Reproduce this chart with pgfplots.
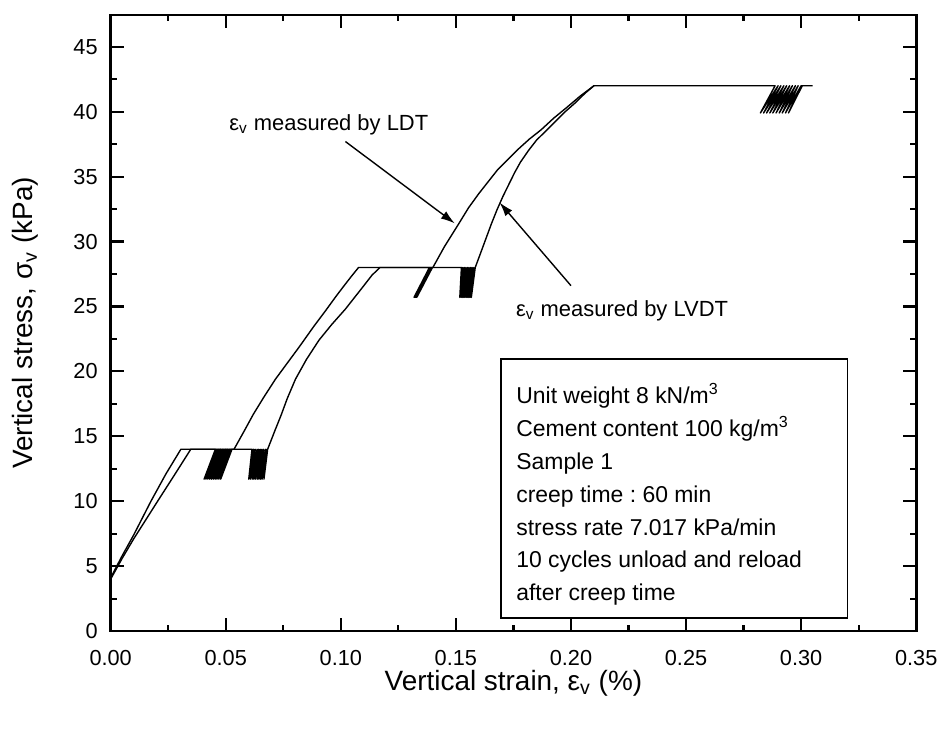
\documentclass[border=0pt]{standalone}
\usepackage{fontspec}
\setmainfont{Liberation Sans}
\usepackage{pgfplots}
\pgfplotsset{compat=1.18}
\usetikzlibrary{arrows.meta}
\frenchspacing
\begin{document}
\begin{tikzpicture}
\begin{axis}[
  scale only axis, width=404pt, height=309pt,
  xmin=0, xmax=0.35, ymin=0, ymax=47.45,
  xtick={0,0.05,0.1,0.15,0.2,0.25,0.3,0.35},
  ytick={0,5,10,15,20,25,30,35,40,45},
  minor x tick num=1, minor y tick num=1,
  tick align=inside, major tick length=6.5pt, minor tick length=3.25pt,
  major tick style={black, line width=1.1pt},
  minor tick style={black, line width=1.1pt},
  axis line style={line width=1.3pt},
  /pgf/number format/assume math mode=true,
  xticklabel style={/pgf/number format/fixed, /pgf/number format/fixed zerofill, /pgf/number format/precision=2, yshift=-6pt},
  yticklabel style={xshift=-3pt},
  tick label style={font=\fontsize{10.9}{12}\selectfont},
  xlabel={Vertical strain, ε\textsubscript{v} (\%)},
  ylabel={Vertical stress, σ\textsubscript{v} (kPa)},
  label style={font=\fontsize{14}{16}\selectfont},
  xlabel style={at={(axis description cs:0.5,-0.084)}, anchor=center},
  ylabel style={at={(axis description cs:-0.106,0.5)}, anchor=center},
]
% LDT
\addplot[black, line width=0.7pt, line join=round] coordinates {
(0,4.1) (0.005,5.8) (0.010,7.4) (0.0175,10.0) (0.024,12.1) (0.0305,14.0)
(0.0455,14.0)
(0.0406,11.7) (0.0462,14) (0.0414,11.7) (0.0470,14) (0.0422,11.7) (0.0477,14) (0.0430,11.7) (0.0485,14) (0.0438,11.7) (0.0492,14) (0.0446,11.7) (0.0500,14) (0.0454,11.7) (0.0507,14) (0.0462,11.7) (0.0515,14) (0.0470,11.7) (0.0522,14) (0.0478,11.7) (0.0527,14)
(0.0536,14.0) (0.058,15.4) (0.062,16.7) (0.0665,18.0) (0.0716,19.4) (0.077,20.7) (0.082,21.9) (0.088,23.4) (0.0939,24.8) (0.098,25.8) (0.101,26.5) (0.1045,27.3) (0.1077,28.0)
(0.1385,28.0)
(0.1318,25.7) (0.1386,28) (0.1320,25.7) (0.1388,28) (0.1321,25.7) (0.1389,28) (0.1322,25.7) (0.1390,28) (0.1324,25.7) (0.1392,28) (0.1325,25.7) (0.1393,28) (0.1326,25.7) (0.1394,28) (0.1328,25.7) (0.1396,28) (0.1329,25.7) (0.1397,28) (0.1330,25.7) (0.1398,28)
(0.1400,28) (0.145,29.6) (0.151,31.3) (0.1555,32.6) (0.160,33.7) (0.164,34.6) (0.168,35.5) (0.1725,36.3) (0.177,37.1) (0.182,37.9) (0.187,38.6) (0.1925,39.5) (0.198,40.3) (0.204,41.2) (0.210,42.0)
(0.2887,42.0)
(0.2823,39.9) (0.2900,42) (0.2837,39.9) (0.2912,42) (0.2850,39.9) (0.2925,42) (0.2864,39.9) (0.2937,42) (0.2877,39.9) (0.2950,42) (0.2891,39.9) (0.2962,42) (0.2905,39.9) (0.2975,42) (0.2918,39.9) (0.2987,42) (0.2932,39.9) (0.3000,42) (0.2945,39.9) (0.3005,42)
(0.305,42.0)
};
% LVDT
\addplot[black, line width=0.7pt, line join=round] coordinates {
(0,4.0) (0.005,5.6) (0.010,7.1) (0.0204,10.0) (0.028,12.1) (0.0348,14.0) (0.0614,14.0)
(0.0600,11.7) (0.0621,14) (0.0607,11.7) (0.0628,14) (0.0615,11.7) (0.0636,14) (0.0622,11.7) (0.0643,14) (0.0629,11.7) (0.0650,14) (0.0637,11.7) (0.0657,14) (0.0644,11.7) (0.0664,14) (0.0651,11.7) (0.0672,14) (0.0658,11.7) (0.0679,14) (0.0666,11.7) (0.0682,14)
(0.0715,15.5) (0.074,16.6) (0.0767,17.9) (0.0803,19.4) (0.085,20.9) (0.0905,22.4) (0.096,23.6) (0.102,24.8) (0.106,25.7) (0.110,26.6) (0.1135,27.4) (0.117,28.0) (0.1524,28.0)
(0.1517,25.7) (0.1530,28) (0.1523,25.7) (0.1537,28) (0.1528,25.7) (0.1543,28) (0.1534,25.7) (0.1550,28) (0.1539,25.7) (0.1556,28) (0.1545,25.7) (0.1563,28) (0.1550,25.7) (0.1569,28) (0.1556,25.7) (0.1575,28) (0.1561,25.7) (0.1582,28) (0.1567,25.7) (0.1584,28)
(0.1605,29.0) (0.163,30.2) (0.1655,31.4) (0.168,32.5) (0.1705,33.5) (0.173,34.4) (0.1755,35.3) (0.178,36.1) (0.1815,37.0) (0.185,37.8) (0.189,38.5) (0.193,39.2) (0.1975,40.0) (0.202,40.7) (0.206,41.4) (0.210,42.0)
};
\draw[line width=0.7pt, -{Latex[length=7pt,width=4.5pt]}] (axis cs:0.102,37.7) -- (axis cs:0.1495,31.4);
\draw[line width=0.7pt, -{Latex[length=7pt,width=4.5pt]}] (axis cs:0.200,26.6) -- (axis cs:0.169,33.0);
\node[anchor=west, inner sep=0pt, font=\fontsize{11}{13}\selectfont] at (axis cs:0.0514,39.0) {ε\textsubscript{v} measured by LDT};
\node[anchor=west, inner sep=0pt, font=\fontsize{11}{13}\selectfont] at (axis cs:0.176,24.65) {ε\textsubscript{v} measured by LVDT};
\draw[line width=0.8pt] (axis cs:0.1696,1.0) rectangle (axis cs:0.3202,20.95);
\node[anchor=west, align=left, inner sep=0pt, font=\fontsize{11.5}{16.5}\selectfont] at (axis cs:0.1761,10.51) {Unit weight 8 kN/m\textsuperscript{3}\\Cement content 100 kg/m\textsuperscript{3}\\Sample 1\\creep time : 60 min\\stress rate 7.017 kPa/min\\10 cycles unload and reload\\after creep time};
\end{axis}
\path (current axis.south west) ++(-55.5pt,-49.5pt) rectangle ([shift={(12.5pt,7.5pt)}]current axis.north east);
\end{tikzpicture}
\end{document}
